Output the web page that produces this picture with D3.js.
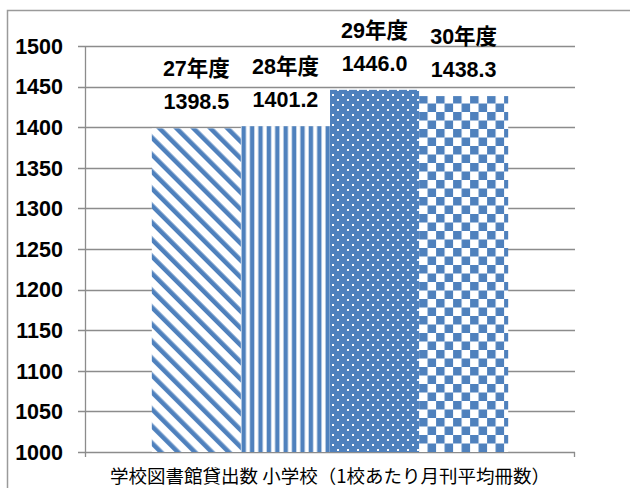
<!DOCTYPE html>
<html>
<head>
<meta charset="utf-8">
<script src="https://cdn.jsdelivr.net/npm/d3@7"></script>
<style>
  html, body { margin: 0; padding: 0; background: #fff; }
  svg { display: block; }
</style>
</head>
<body>
<svg id="chart" width="630" height="488"></svg>
<script>
// 学校図書館貸出数 小学校（1校あたり月刊平均冊数）
const years = ["27年度", "28年度", "29年度", "30年度"];
const values = [1398.5, 1401.2, 1446.0, 1438.3];
const patterns = ["diag", "vert", "dots", "check"];
const yTicks = [1000, 1050, 1100, 1150, 1200, 1250, 1300, 1350, 1400, 1450, 1500];
const axisTitle = "学校図書館貸出数 小学校（1校あたり月刊平均冊数）";

const BLUE = "#4f81bd";
const GRID = "#8c8c8c";
const NUM_FONT = "'Liberation Sans', Arial, 'Noto Sans CJK JP', sans-serif";
const CJK_FONT = "'Noto Sans CJK JP', 'Liberation Sans', sans-serif";

const svg = d3.select("#chart");

// Chart frame
svg.append("rect")
  .attr("x", 7.5).attr("y", 10.5)
  .attr("width", 700).attr("height", 600)
  .attr("fill", "none").attr("stroke", "#9a9a9a").attr("stroke-width", 1.5);

const plot = { left: 85, right: 575, top: 46, bottom: 452 };

const y = d3.scaleLinear().domain([1000, 1500]).range([plot.bottom, plot.top]);
const x = d3.scaleBand().domain(years)
  .range([plot.left, plot.right])
  .paddingInner(0).paddingOuter(0.75);

// Fill patterns
const defs = svg.append("defs");
function makePattern(id, w, h, originX, draw, transform) {
  const p = defs.append("pattern")
    .attr("id", id)
    .attr("patternUnits", "userSpaceOnUse")
    .attr("x", originX).attr("y", plot.bottom)
    .attr("width", w).attr("height", h);
  if (transform) p.attr("patternTransform", transform);
  p.append("rect").attr("width", w).attr("height", h).attr("fill", "#fff");
  draw(p);
}
years.forEach((yr, i) => {
  const x0 = x(yr);
  const kind = patterns[i];
  const id = "pat-" + i;
  if (kind === "diag") {
    makePattern(id, 12, 12, x0, p => {
      p.append("rect").attr("x", 0).attr("y", 0).attr("width", 4.6).attr("height", 12).attr("fill", BLUE);
    }, "rotate(-45)");
  } else if (kind === "vert") {
    makePattern(id, 8.4, 10, x0, p => {
      p.append("rect").attr("x", 0.6).attr("y", 0).attr("width", 4.4).attr("height", 10).attr("fill", BLUE);
    });
  } else if (kind === "dots") {
    makePattern(id, 10, 10, x0, p => {
      p.append("rect").attr("width", 10).attr("height", 10).attr("fill", BLUE);
      p.append("rect").attr("x", 2).attr("y", 2).attr("width", 2).attr("height", 2).attr("fill", "#fff");
      p.append("rect").attr("x", 7).attr("y", 7).attr("width", 2).attr("height", 2).attr("fill", "#fff");
    });
  } else {
    makePattern(id, 17, 17, x0, p => {
      p.append("rect").attr("x", 0).attr("y", 0).attr("width", 8.5).attr("height", 8.5).attr("fill", BLUE);
      p.append("rect").attr("x", 8.5).attr("y", 8.5).attr("width", 8.5).attr("height", 8.5).attr("fill", BLUE);
    });
  }
});

// Gridlines and left ticks
const yAxis = svg.append("g");
yAxis.selectAll("line.grid").data(yTicks).join("line")
  .attr("class", "grid")
  .attr("x1", plot.left - 7).attr("x2", plot.right)
  .attr("y1", d => Math.round(y(d)) + 0.5).attr("y2", d => Math.round(y(d)) + 0.5)
  .attr("stroke", GRID).attr("stroke-width", 1.3);
yAxis.append("line")
  .attr("x1", plot.left + 0.5).attr("x2", plot.left + 0.5)
  .attr("y1", y(1500)).attr("y2", plot.bottom + 5)
  .attr("stroke", GRID).attr("stroke-width", 1.3);
yAxis.append("line")
  .attr("x1", plot.right - 0.5).attr("x2", plot.right - 0.5)
  .attr("y1", plot.bottom).attr("y2", plot.bottom + 5)
  .attr("stroke", GRID).attr("stroke-width", 1.3);
yAxis.selectAll("text").data(yTicks).join("text")
  .attr("x", 63)
  .attr("y", d => y(d) + 7.7)
  .attr("text-anchor", "end")
  .attr("font-family", NUM_FONT)
  .attr("font-weight", "bold")
  .attr("font-size", 21.5)
  .attr("fill", "#000")
  .text(d => d);

// Bars
svg.append("g").selectAll("rect").data(values).join("rect")
  .attr("x", (d, i) => x(years[i]))
  .attr("y", d => y(d))
  .attr("width", x.bandwidth())
  .attr("height", d => plot.bottom - y(d))
  .attr("fill", (d, i) => `url(#pat-${i})`);

// Bar labels: fiscal year above value
const labels = svg.append("g");
labels.selectAll("text.year").data(values).join("text")
  .attr("class", "year")
  .attr("x", (d, i) => x(years[i]) + x.bandwidth() / 2)
  .attr("y", d => y(d) - 60 + 7.7)
  .attr("text-anchor", "middle")
  .attr("font-family", NUM_FONT)
  .attr("font-weight", "bold")
  .attr("font-size", 21.5)
  .text((d, i) => years[i]);
labels.selectAll("text.val").data(values).join("text")
  .attr("class", "val")
  .attr("x", (d, i) => x(years[i]) + x.bandwidth() / 2)
  .attr("y", d => y(d) - 27 + 7.7)
  .attr("text-anchor", "middle")
  .attr("font-family", NUM_FONT)
  .attr("font-weight", "bold")
  .attr("font-size", 21.5)
  .text(d => d.toFixed(1));

// Category axis title
svg.append("text")
  .attr("x", (plot.left + plot.right) / 2)
  .attr("y", 483)
  .attr("text-anchor", "middle")
  .attr("font-family", CJK_FONT)
  .attr("font-size", 18.5)
  .attr("fill", "#000")
  .text(axisTitle);
</script>
</body>
</html>
